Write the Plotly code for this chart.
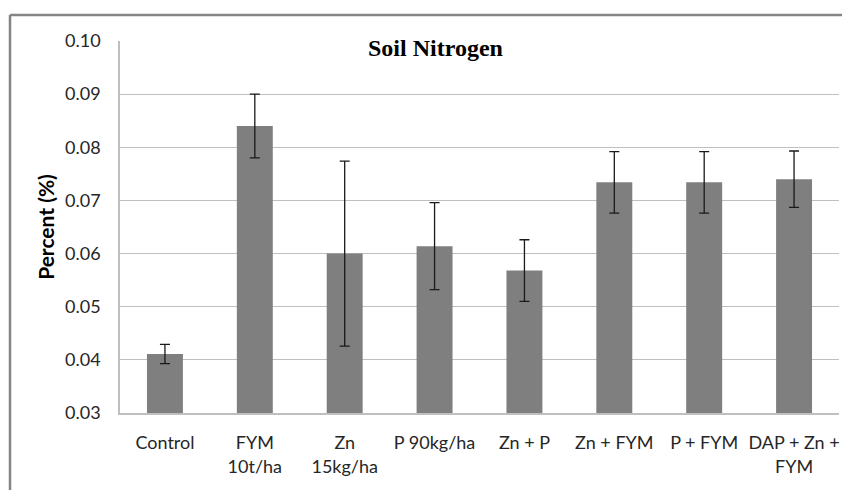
import plotly.graph_objects as go

categories = ["Control", "FYM<br>10t/ha", "Zn<br>15kg/ha", "P 90kg/ha", "Zn + P",
              "Zn + FYM", "P + FYM", "DAP + Zn +<br>FYM"]
values = [0.0411, 0.0840, 0.0600, 0.0614, 0.0568, 0.0734, 0.0734, 0.0740]
errors = [0.0018, 0.0060, 0.0174, 0.0082, 0.0058, 0.0058, 0.0058, 0.0053]
y_ticks = [0.03, 0.04, 0.05, 0.06, 0.07, 0.08, 0.09, 0.10]
y_tick_labels = ["0.03", "0.04", "0.05", "0.06", "0.07", "0.08", "0.09", "0.10"]

# page offset of 8px (default body margin)
L, T, R, B = 112, 33, 11, 77
PW, PH = 719, 372

fig = go.Figure()
fig.add_trace(go.Bar(
    x=categories, y=values,
    marker=dict(color="#7f7f7f", line=dict(width=0)),
    error_y=dict(type="data", array=errors, visible=True,
                 color="#1a1a1a", thickness=1.3, width=5),
))

fig.update_layout(
    width=L + PW + R, height=T + PH + B,
    margin=dict(l=L, r=R, t=T, b=B),
    paper_bgcolor="white", plot_bgcolor="white",
    bargap=0.6, showlegend=False,
    font=dict(family="Lato, Open Sans, sans-serif", color="#262626"),
    xaxis=dict(showline=True, linecolor="#bfbfbf", linewidth=1.5,
               ticks="", tickfont=dict(size=18, color="#262626"),
               ticklabelstandoff=13,
               showgrid=False),
    yaxis=dict(range=[0.03, 0.10], tickvals=y_ticks, ticktext=y_tick_labels,
               showgrid=True, gridcolor="#bfbfbf", gridwidth=1.2,
               showline=True, linecolor="#bfbfbf", linewidth=1.5,
               ticks="", tickfont=dict(size=18, color="#262626"),
               ticklabelstandoff=14,
               title=dict(text="<b>Percent (%)</b>", font=dict(size=21, color="#000000"),
                          standoff=5),
               zeroline=False),
    annotations=[dict(text="<b>Soil Nitrogen</b>", xref="paper", yref="paper",
                      x=(435 - 120) / PW, y=1 - (48 - 41) / PH,
                      xanchor="center", yanchor="middle", showarrow=False,
                      font=dict(family="Liberation Serif, serif", size=24, color="#000000"))],
    shapes=[
        dict(type="line", xref="paper", yref="paper",
             x0=(10 - 120) / PW, x1=(10 - 120) / PW,
             y0=1 + (41 - 15) / PH, y1=-0.3,
             line=dict(color="#858585", width=2.5)),
        dict(type="line", xref="paper", yref="paper",
             x0=(10 - 120) / PW, x1=1.1,
             y0=1 + (41 - 15) / PH, y1=1 + (41 - 15) / PH,
             line=dict(color="#858585", width=2.5)),
    ],
)

fig.write_html("out.html")
